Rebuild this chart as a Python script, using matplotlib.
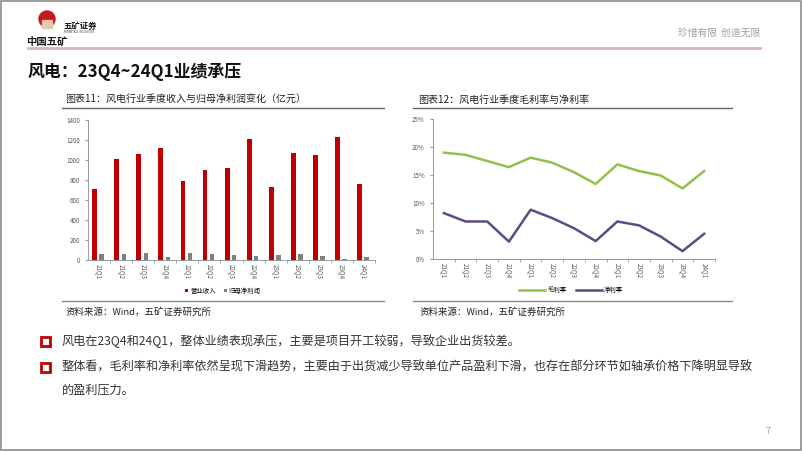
import matplotlib.pyplot as plt
from matplotlib.patches import Rectangle, Circle
from matplotlib.ticker import FuncFormatter

plt.rcParams['font.family'] = ['Noto Sans CJK SC', 'DejaVu Sans']

# 数据
quarters = ["21Q1", "21Q2", "21Q3", "21Q4", "22Q1", "22Q2", "22Q3", "22Q4",
            "23Q1", "23Q2", "23Q3", "23Q4", "24Q1"]
revenue = [715, 1012, 1056, 1119, 795, 899, 925, 1213, 732, 1066, 1049, 1226, 762]
net_profit = [57, 63, 70, 33, 70, 63, 50, 40, 47, 63, 40, 15, 33]
gross_margin = [19.0, 18.6, 17.5, 16.4, 18.1, 17.2, 15.5, 13.4, 16.9, 15.7, 14.9, 12.6, 15.7]
net_margin = [8.2, 6.7, 6.7, 3.1, 8.8, 7.3, 5.5, 3.2, 6.7, 6.0, 4.0, 1.4, 4.5]

W, H = 802, 451
fig = plt.figure(figsize=(W / 100, H / 100), dpi=100)

# 背景层，按像素坐标排版
bg = fig.add_axes([0, 0, 1, 1], zorder=-1)
bg.set_xlim(0, W)
bg.set_ylim(H, 0)
bg.axis("off")

bg.add_patch(Rectangle((0.5, 0.5), W - 1.5, H - 1.5, fill=False, ec="#8c8c8c", lw=1.2))

# 标志
bg.add_patch(Circle((47, 19), 8, color="#c8161d"))
bg.add_patch(Rectangle((42, 20), 10, 8, color="#e8c9a8"))
bg.text(47, 41, "中国五矿", fontsize=7.5, fontweight="bold", ha="center", va="center", color="#1a1a1a")
bg.text(64, 26, "五矿证券", fontsize=6, fontweight="bold", ha="left", va="center", color="#1a1a1a")
bg.text(64, 32, "MINMETALS SECURITIES", fontsize=1.8, ha="left", va="center", color="#444444",
        family="DejaVu Sans")
bg.text(760, 33, "珍惜有限  创造无限", fontsize=7, ha="right", va="center", color="#a0a0a0")
bg.plot([28, 760], [48, 48], color="#d9b3bd", lw=2)

bg.text(28, 72, "风电：23Q4~24Q1业绩承压", fontsize=12.2, fontweight="bold", ha="left", va="center",
        color="#111111")

# 图表标题与分隔线
bg.text(65, 100, "图表11：风电行业季度收入与归母净利润变化（亿元）", fontsize=7.2, ha="left", va="center",
        color="#222222")
bg.plot([62, 384], [108, 108], color="#666666", lw=1)
bg.text(418, 100, "图表12：风电行业季度毛利率与净利率", fontsize=7.2, ha="left", va="center", color="#222222")
bg.plot([413, 732], [108, 108], color="#666666", lw=1)

bg.plot([62, 384], [301, 301], color="#888888", lw=1)
bg.plot([413, 732], [301, 301], color="#888888", lw=1)
bg.text(65, 312, "资料来源：Wind，五矿证券研究所", fontsize=6.8, ha="left", va="center", color="#222222")
bg.text(420, 312, "资料来源：Wind，五矿证券研究所", fontsize=6.8, ha="left", va="center", color="#222222")

# 要点
bullets = [(341, "风电在23Q4和24Q1，整体业绩表现承压，主要是项目开工较弱，导致企业出货较差。"),
           (367, "整体看，毛利率和净利率依然呈现下滑趋势，主要由于出货减少导致单位产品盈利下滑，也存在部分环节如轴承价格下降明显导致"),
           (390, "的盈利压力。")]
for i, (yy, txt) in enumerate(bullets):
    if i < 2:
        bg.add_patch(Rectangle((41, yy - 4.5), 9, 9, fill=False, ec="#c00000", lw=2))
    bg.text(62, yy, txt, fontsize=8.75, ha="left", va="center", color="#333333")

bg.text(768, 432, "7", fontsize=6, ha="center", va="center", color="#999999")

x = list(range(len(quarters)))
tick_col = "#595959"

# 图表11：柱状图
ax1 = fig.add_axes([88 / W, 1 - 260 / H, 287 / W, 140 / H])
ax1.bar([i - 0.2 for i in x], revenue, width=0.22, color="#c00000", label="营业收入")
ax1.bar([i + 0.12 for i in x], net_profit, width=0.2, color="#808080", label="归母净利润")
ax1.set_ylim(0, 1400)
ax1.set_yticks(range(0, 1401, 200))
ax1.set_xlim(-0.5, len(quarters) - 0.5)
ax1.set_xticks(x)
ax1.set_xticklabels(quarters, rotation=270)
ax1.set_xticks([i + 0.5 for i in x], minor=True)
ax1.tick_params(axis="x", which="major", length=0, labelsize=4.5, colors=tick_col, pad=3)
ax1.tick_params(axis="x", which="minor", length=2.5, color="#999999")
ax1.tick_params(axis="y", labelsize=4.5, colors=tick_col, length=2.5, color="#999999")
for s in ["top", "right"]:
    ax1.spines[s].set_visible(False)
for s in ["left", "bottom"]:
    ax1.spines[s].set_color("#999999")
    ax1.spines[s].set_linewidth(0.7)
ax1.legend(loc="upper center", bbox_to_anchor=(0.47, -0.15), ncol=2, frameon=False, fontsize=4.6,
           handlelength=0.5, handleheight=0.5, handletextpad=0.3, columnspacing=1.2)

# 图表12：折线图
ax2 = fig.add_axes([433 / W, 1 - 259 / H, 282 / W, 140 / H])
ax2.plot(x, gross_margin, color="#92c04f", lw=1.8, label="毛利率")
ax2.plot(x, net_margin, color="#604a84", lw=1.8, label="净利率")
ax2.set_ylim(0, 25)
ax2.set_yticks(range(0, 26, 5))
ax2.yaxis.set_major_formatter(FuncFormatter(lambda v, p: f"{v:.0f}%"))
ax2.set_xlim(-0.5, len(quarters) - 0.5)
ax2.set_xticks(x)
ax2.set_xticklabels(quarters, rotation=270)
ax2.set_xticks([i + 0.5 for i in x], minor=True)
ax2.tick_params(axis="x", which="major", length=0, labelsize=4.5, colors=tick_col, pad=3)
ax2.tick_params(axis="x", which="minor", length=2.5, color="#999999")
ax2.tick_params(axis="y", labelsize=4.5, colors=tick_col, length=2.5, color="#999999")
for s in ["top", "right"]:
    ax2.spines[s].set_visible(False)
for s in ["left", "bottom"]:
    ax2.spines[s].set_color("#999999")
    ax2.spines[s].set_linewidth(0.7)
ax2.legend(loc="upper center", bbox_to_anchor=(0.49, -0.15), ncol=2, frameon=False, fontsize=4.6,
           handlelength=4, handletextpad=0.4, columnspacing=1.5)

fig.savefig("out.png", dpi=100)
